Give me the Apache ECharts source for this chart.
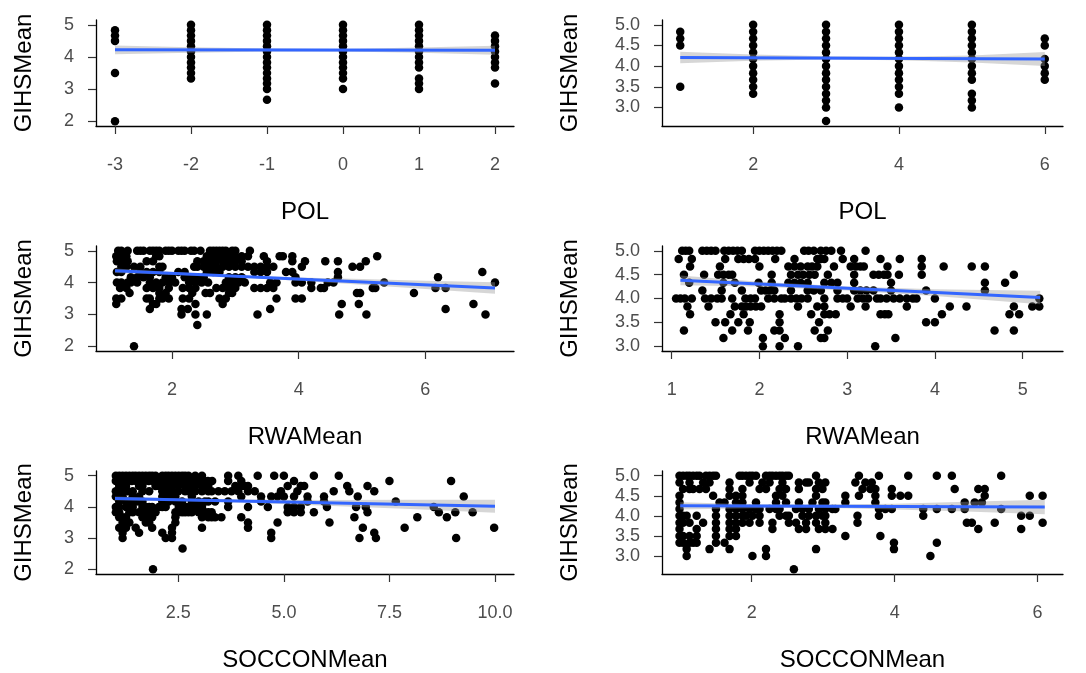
<!DOCTYPE html>
<html>
<head>
<meta charset="utf-8">
<script src="https://cdn.jsdelivr.net/npm/echarts@6/dist/echarts.min.js"></script>
<style>
  html, body { margin: 0; padding: 0; background: #fff; }
  #chart { width: 1086px; height: 673px; }
</style>
</head>
<body>
<div id="chart"></div>
<script>
// ---- data ----
// POL panels: [POL value, [GIHSMean values at that POL]]
const polColsA = [
  [-3, [4.83, 4.67, 4.5, 3.5, 2.0]],
  [-2, [5, 4.83, 4.67, 4.5, 4.33, 4.17, 4, 3.83, 3.67, 3.5, 3.33]],
  [-1, [5, 4.83, 4.67, 4.5, 4.33, 4.17, 4, 3.83, 3.67, 3.5, 3.33, 3.17, 3.0, 2.67]],
  [0, [5, 4.83, 4.67, 4.5, 4.33, 4.17, 4, 3.83, 3.67, 3.5, 3.33, 3.0]],
  [1, [5, 4.83, 4.67, 4.5, 4.33, 4.17, 4, 3.83, 3.67, 3.33, 3.17, 3.0]],
  [2, [4.67, 4.5, 4.33, 4.17, 4, 3.83, 3.67, 3.17]]
];
const polColsB = [
  [1, [4.83, 4.67, 4.5, 3.5]],
  [2, [5, 4.83, 4.67, 4.5, 4.33, 4.17, 4, 3.83, 3.67, 3.5, 3.33]],
  [3, [5, 4.83, 4.67, 4.5, 4.33, 4.17, 4, 3.83, 3.67, 3.5, 3.33, 3.17, 3.0, 2.67]],
  [4, [5, 4.83, 4.67, 4.5, 4.33, 4.17, 4, 3.83, 3.67, 3.5, 3.33, 3.0]],
  [5, [5, 4.83, 4.67, 4.5, 4.33, 4.17, 4, 3.83, 3.67, 3.33, 3.17, 3.0]],
  [6, [4.67, 4.5, 4.17, 4, 3.83, 3.67]]
];

// continuous panels: [GIHSMean value, [x values with that GIHSMean]]
const rwaRowsA = [
  [5.00, [1.15, 1.2, 1.3, 1.45, 1.5, 1.55, 1.65, 1.7, 1.75, 1.8, 1.9, 1.95, 2.0, 2.1, 2.15, 2.2, 2.3, 2.35, 2.45, 2.6, 2.65, 2.7, 2.75, 2.8, 2.85, 2.95, 3.0, 3.23]],
  [4.83, [1.12, 1.2, 1.28, 1.75, 1.8, 2.55, 2.6, 2.7, 2.8, 2.9, 3.0, 3.1, 3.2, 3.45, 3.7, 3.75, 3.9, 5.24]],
  [4.67, [1.13, 1.2, 1.3, 1.6, 1.7, 2.4, 2.5, 2.6, 2.7, 2.8, 2.9, 3.0, 3.1, 3.5, 3.9, 4.1, 4.42, 4.62, 5.06]],
  [4.50, [1.2, 1.28, 1.4, 1.5, 1.8, 1.85, 2.35, 2.4, 2.5, 2.6, 2.7, 2.8, 2.9, 3.0, 3.1, 3.2, 3.3, 3.4, 3.5, 3.6, 4.05, 4.85, 4.97]],
  [4.33, [1.13, 1.2, 1.5, 1.6, 1.7, 1.8, 2.1, 2.2, 2.55, 2.65, 2.75, 3.3, 3.4, 3.5, 3.8, 3.9, 4.62, 6.9]],
  [4.17, [1.35, 1.45, 1.55, 1.65, 1.9, 2.0, 2.2, 2.3, 2.4, 2.5, 2.9, 3.0, 3.1, 3.95, 4.62, 6.2]],
  [4.00, [1.13, 1.2, 1.3, 1.35, 1.45, 1.65, 1.75, 1.85, 1.95, 2.05, 2.27, 2.37, 2.47, 2.57, 2.85, 2.95, 3.05, 3.15, 3.55, 3.65, 3.95, 4.05, 4.2, 4.46, 4.55, 5.35, 7.1]],
  [3.83, [1.18, 1.28, 1.6, 1.7, 1.8, 1.95, 2.17, 2.27, 2.37, 2.7, 2.8, 2.9, 3.0, 3.3, 3.4, 3.5, 3.6, 4.2, 4.35, 4.4, 5.17, 5.21, 6.16, 6.32]],
  [3.67, [1.33, 1.8, 1.9, 2.32, 2.53, 2.6, 2.9, 2.95, 4.92, 4.97, 5.82]],
  [3.50, [1.12, 1.2, 1.6, 1.65, 1.8, 1.85, 1.95, 2.17, 2.27, 2.75, 2.85, 3.65, 3.95, 4.05]],
  [3.33, [1.12, 1.7, 1.75, 2.37, 2.8, 4.68, 4.95, 6.76]],
  [3.17, [1.65, 2.15, 2.25, 3.55, 6.32]],
  [3.00, [2.15, 2.37, 2.55, 3.35, 4.64, 5.07, 6.95]],
  [2.67, [2.4]],
  [2.00, [1.4]]
];
const rwaRowsB = [
  [5.00, [1.12, 1.16, 1.2, 1.35, 1.4, 1.45, 1.5, 1.6, 1.65, 1.7, 1.75, 1.8, 1.95, 2.0, 2.05, 2.1, 2.15, 2.2, 2.25, 2.51, 2.56, 2.62, 2.7, 2.76, 2.82, 2.93, 3.21]],
  [4.83, [1.08, 1.23, 1.61, 1.76, 1.82, 1.88, 1.95, 2.18, 2.4, 2.66, 2.7, 2.74, 2.95, 3.08, 3.38, 3.6, 3.85]],
  [4.67, [1.21, 1.55, 2.0, 2.33, 2.4, 2.47, 2.55, 2.6, 2.66, 2.85, 3.04, 3.1, 3.15, 3.19, 3.46, 3.85, 4.1, 4.42, 4.57]],
  [4.50, [1.14, 1.37, 1.53, 1.59, 1.65, 1.69, 2.14, 2.36, 2.44, 2.5, 2.57, 2.63, 2.78, 3.08, 3.3, 3.36, 3.42, 3.46, 3.59, 3.85, 4.9]],
  [4.33, [1.2, 1.59, 1.72, 1.99, 2.14, 2.33, 2.4, 2.47, 2.55, 2.74, 2.82, 2.89, 3.08, 3.5, 4.57, 4.8]],
  [4.17, [1.35, 1.57, 1.8, 2.02, 2.07, 2.12, 2.17, 2.36, 2.55, 2.62, 2.7, 2.89, 3.08, 3.15, 3.22, 3.3, 3.5, 3.9, 4.57]],
  [4.00, [1.05, 1.1, 1.15, 1.23, 1.38, 1.45, 1.52, 1.57, 1.69, 1.84, 1.9, 1.95, 2.1, 2.17, 2.25, 2.29, 2.36, 2.42, 2.48, 2.55, 2.74, 2.89, 2.95, 3.0, 3.12, 3.18, 3.24, 3.34, 3.38, 3.45, 3.53, 3.6, 3.68, 3.75, 3.79, 4.0, 5.19]],
  [3.83, [1.18, 1.42, 1.72, 1.8, 1.85, 1.9, 1.96, 2.02, 2.44, 2.66, 2.74, 3.04, 3.21, 3.68, 4.17, 4.36, 4.9, 5.11, 5.19]],
  [3.67, [1.21, 1.67, 1.82, 2.23, 2.59, 2.74, 2.8, 2.87, 3.38, 3.43, 3.47, 4.08, 4.85, 4.96]],
  [3.50, [1.5, 1.61, 1.76, 1.89, 2.23, 2.68, 3.9, 4.0]],
  [3.33, [1.14, 1.69, 1.87, 2.17, 2.23, 2.63, 2.78, 4.68, 4.9]],
  [3.17, [1.59, 2.04, 2.29, 2.7, 2.74, 3.55]],
  [3.00, [2.04, 2.23, 2.44, 3.32]]
];
const socRowsA = [
  [5.00, [1.02, 1.1, 1.18, 1.26, 1.34, 1.42, 1.49, 1.57, 1.65, 1.73, 1.81, 1.88, 1.96, 2.12, 2.2, 2.27, 2.35, 2.43, 2.51, 2.59, 2.66, 2.74, 2.9, 3.06, 3.68, 3.92, 4.38, 4.77, 5.0, 5.71, 6.3]],
  [4.83, [1.02, 1.1, 1.2, 1.3, 1.4, 1.5, 1.6, 1.7, 1.8, 1.9, 2.0, 2.1, 2.2, 2.3, 2.4, 2.5, 2.6, 2.7, 2.8, 2.9, 3.0, 3.1, 3.2, 3.3, 3.68, 3.99, 5.24, 7.5, 8.96]],
  [4.67, [1.1, 1.18, 1.26, 1.57, 1.65, 1.96, 2.04, 2.2, 2.35, 2.5, 2.66, 2.82, 2.9, 3.06, 3.21, 3.85, 3.99, 4.07, 4.15, 5.09, 5.4, 5.48, 6.5, 6.98]],
  [4.50, [1.02, 1.1, 1.2, 1.3, 1.42, 1.65, 1.81, 2.12, 2.2, 2.35, 2.5, 2.66, 2.74, 2.9, 3.06, 3.21, 3.29, 3.45, 3.6, 3.76, 3.92, 4.15, 4.31, 4.93, 5.32, 6.18, 6.55, 7.14]],
  [4.33, [1.02, 1.18, 1.42, 1.57, 2.12, 2.27, 2.43, 2.82, 3.99, 4.46, 4.7, 4.85, 5.0, 5.24, 5.56, 5.95, 6.75, 9.26]],
  [4.17, [1.1, 1.26, 1.34, 1.42, 1.49, 1.57, 1.65, 2.12, 2.27, 2.43, 2.59, 2.82, 2.98, 3.13, 3.21, 3.37, 3.68, 4.46, 5.56, 5.95, 7.65]],
  [4.00, [1.02, 1.1, 1.26, 1.34, 1.42, 1.65, 1.73, 1.81, 1.88, 2.04, 2.12, 2.2, 2.51, 2.59, 2.66, 2.74, 2.9, 2.98, 3.06, 3.68, 4.15, 4.62, 5.09, 5.24, 5.4, 6.02, 6.71, 6.94, 8.55]],
  [3.83, [1.02, 1.1, 1.34, 1.42, 1.57, 1.65, 1.73, 1.81, 1.96, 2.43, 2.51, 2.59, 2.66, 2.74, 2.82, 2.98, 3.06, 3.13, 3.21, 3.29, 5.09, 5.24, 5.4, 5.71, 6.98, 8.67, 9.06, 9.47]],
  [3.67, [1.1, 1.18, 1.26, 1.65, 1.73, 1.81, 1.88, 2.43, 3.06, 3.21, 3.29, 3.37, 3.52, 3.99, 6.67, 8.16, 8.86]],
  [3.50, [1.18, 1.34, 1.73, 1.81, 2.43, 4.15, 4.85, 6.08]],
  [3.33, [1.1, 1.26, 1.49, 1.88, 2.35, 3.06, 4.15, 6.87, 7.86, 9.98]],
  [3.17, [1.18, 1.57, 2.12, 2.35, 4.7, 7.14]],
  [3.00, [1.18, 2.2, 2.35, 4.7, 6.79, 7.18, 9.08]],
  [2.67, [2.6]],
  [2.00, [1.9]]
];
const socRowsB = [
  [5.00, [0.99, 1.04, 1.09, 1.13, 1.18, 1.23, 1.27, 1.36, 1.41, 1.46, 1.5, 1.83, 1.87, 1.92, 1.97, 2.01, 2.06, 2.2, 2.25, 2.29, 2.34, 2.39, 2.43, 2.48, 2.52, 2.9, 3.5, 3.78, 4.19, 4.59, 4.8, 5.49]],
  [4.83, [0.99, 1.13, 1.32, 1.41, 1.69, 1.97, 2.15, 2.25, 2.43, 2.66, 2.76, 2.8, 2.94, 3.03, 3.45, 3.59, 3.68]],
  [4.67, [1.04, 1.13, 1.18, 1.27, 1.36, 1.69, 1.87, 2.11, 2.2, 2.39, 2.48, 2.66, 2.9, 2.99, 3.55, 3.66, 3.73, 3.96, 4.84, 5.17, 5.26]],
  [4.50, [0.99, 1.46, 1.69, 1.78, 1.87, 2.34, 2.43, 2.9, 3.31, 3.5, 3.73, 3.96, 4.08, 4.19, 5.26, 5.89, 6.07]],
  [4.33, [0.99, 1.55, 1.62, 1.78, 1.87, 2.06, 2.34, 2.48, 2.66, 2.85, 2.99, 3.03, 3.31, 3.73, 4.98, 5.12, 5.22]],
  [4.17, [0.99, 1.5, 1.69, 1.78, 1.87, 1.97, 2.06, 2.11, 2.25, 2.34, 2.39, 2.62, 2.71, 2.8, 2.94, 3.03, 3.13, 3.17, 3.78, 3.87, 3.96, 4.4, 4.59, 4.8, 4.98, 5.49]],
  [4.00, [0.99, 1.04, 1.09, 1.23, 1.5, 1.69, 1.78, 1.87, 1.92, 2.01, 2.11, 2.39, 2.48, 2.52, 2.71, 2.8, 2.9, 2.99, 3.03, 3.48, 3.78, 4.4, 5.77, 5.89]],
  [3.83, [0.99, 1.04, 1.13, 1.32, 1.5, 1.69, 1.78, 1.87, 1.97, 2.11, 2.29, 2.52, 2.62, 2.76, 2.9, 3.03, 3.48, 5.01, 5.08, 5.4, 6.07]],
  [3.67, [0.99, 1.23, 1.5, 1.69, 1.78, 2.29, 2.66, 2.76, 2.94, 3.03, 3.13, 5.17, 5.77]],
  [3.50, [0.99, 1.04, 1.13, 1.23, 1.5, 1.69, 1.78, 3.31, 3.8]],
  [3.33, [0.99, 1.04, 1.13, 1.18, 1.23, 1.5, 1.62, 3.99, 4.59]],
  [3.17, [1.09, 1.41, 1.69, 2.2, 2.9, 3.99]],
  [3.00, [1.09, 2.01, 2.2, 4.5]],
  [2.67, [2.59]]
];

// fitted lm lines and their 95% bands: [x, y] and [x, lower, upper]
const fitPolA = [[-3, 4.22], [2, 4.21]];
const bandPolA = [[-3, 4.08, 4.36], [-2, 4.13, 4.30], [-1, 4.17, 4.26], [0, 4.17, 4.25], [1, 4.13, 4.29], [2, 4.07, 4.35]];
const fitPolB = [[1, 4.21], [6, 4.17]];
const bandPolB = [[1, 4.07, 4.35], [2, 4.13, 4.28], [3, 4.16, 4.24], [4, 4.14, 4.23], [5, 4.09, 4.26], [6, 4.00, 4.34]];
const fitRwaA = [[1.1, 4.37], [7.1, 3.83]];
const bandRwaA = [[1.1, 4.30, 4.44], [2, 4.25, 4.33], [3, 4.17, 4.23], [4, 4.06, 4.16], [5, 3.93, 4.11], [6, 3.80, 4.06], [7.1, 3.65, 4.01]];
const fitRwaB = [[1.1, 4.38], [5.2, 4.02]];
const bandRwaB = [[1.1, 4.28, 4.48], [2, 4.25, 4.35], [3, 4.17, 4.25], [4, 4.055, 4.195], [5.2, 3.88, 4.16]];
const fitSocA = [[1, 4.27], [10, 4.02]];
const bandSocA = [[1, 4.21, 4.33], [2.5, 4.19, 4.27], [4, 4.14, 4.24], [6, 4.04, 4.22], [8, 3.93, 4.23], [10, 3.81, 4.23]];
const fitSocB = [[1, 4.25], [6.1, 4.22]];
const bandSocB = [[1, 4.16, 4.34], [2, 4.19, 4.29], [3, 4.20, 4.28], [4, 4.16, 4.30], [5, 4.11, 4.35], [6.1, 4.04, 4.40]];

// tick labels
const polTicksA = [-3, -2, -1, 0, 1, 2];
const polTicksB = [2, 4, 6];
const rwaTicksA = [2, 4, 6];
const rwaTicksB = [1, 2, 3, 4, 5];
const socTicksA = [2.5, 5.0, 7.5, 10.0];
const socTicksB = [2, 4, 6];
const gihsTicksA = [2, 3, 4, 5];
const gihsTicksB = [3.0, 3.5, 4.0, 4.5, 5.0];

function fromColumns(cols) {
  const out = [];
  cols.forEach(c => c[1].forEach(y => out.push([c[0], y])));
  return out;
}
function fromRows(rows) {
  const out = [];
  rows.forEach(r => r[1].forEach(x => out.push([x, r[0]])));
  return out;
}

const leftCol = { left: 96, width: 418, yGap: 60 };
const rightCol = { left: 662, width: 401, yGap: 80 };
const rows = [{ top: 20, height: 106 }, { top: 246, height: 105 }, { top: 471, height: 106 }];

const panels = [
  { col: leftCol, row: rows[0], xName: 'POL', pts: fromColumns(polColsA), fit: fitPolA, band: bandPolA,
    xMin: -3.25, xMax: 2.25, xTicks: polTicksA, xDigits: 0, yMin: 1.85, yMax: 5.15, yTicks: gihsTicksA, yDigits: 0 },
  { col: rightCol, row: rows[0], xName: 'POL', pts: fromColumns(polColsB), fit: fitPolB, band: bandPolB,
    xMin: 0.75, xMax: 6.25, xTicks: polTicksB, xDigits: 0, yMin: 2.55, yMax: 5.117, yTicks: gihsTicksB, yDigits: 1 },
  { col: leftCol, row: rows[1], xName: 'RWAMean', pts: fromRows(rwaRowsA), fit: fitRwaA, band: bandRwaA,
    xMin: 0.8, xMax: 7.4, xTicks: rwaTicksA, xDigits: 0, yMin: 1.85, yMax: 5.15, yTicks: gihsTicksA, yDigits: 0 },
  { col: rightCol, row: rows[1], xName: 'RWAMean', pts: fromRows(rwaRowsB), fit: fitRwaB, band: bandRwaB,
    xMin: 0.89, xMax: 5.46, xTicks: rwaTicksB, xDigits: 0, yMin: 2.9, yMax: 5.1, yTicks: gihsTicksB, yDigits: 1 },
  { col: leftCol, row: rows[2], xName: 'SOCCONMean', pts: fromRows(socRowsA), fit: fitSocA, band: bandSocA,
    xMin: 0.55, xMax: 10.45, xTicks: socTicksA, xDigits: 1, yMin: 1.85, yMax: 5.15, yTicks: gihsTicksA, yDigits: 0 },
  { col: rightCol, row: rows[2], xName: 'SOCCONMean', pts: fromRows(socRowsB), fit: fitSocB, band: bandSocB,
    xMin: 0.745, xMax: 6.355, xTicks: socTicksB, xDigits: 0, yMin: 2.55, yMax: 5.117, yTicks: gihsTicksB, yDigits: 1 }
];

const font = 'Liberation Sans, Arial, sans-serif';
const grid = [], xAxis = [], yAxis = [], series = [];

panels.forEach((p, i) => {
  grid.push({ left: p.col.left, width: p.col.width, top: p.row.top, height: p.row.height });
  xAxis.push({
    gridIndex: i, type: 'value', min: p.xMin, max: p.xMax,
    name: p.xName, nameLocation: 'middle', nameGap: 74,
    nameTextStyle: { fontSize: 24, color: '#000', fontFamily: font },
    axisLine: { onZero: false, lineStyle: { color: '#000', width: 1.3 } },
    axisTick: { customValues: p.xTicks, length: 8, lineStyle: { color: '#333', width: 1.2 } },
    axisLabel: { customValues: p.xTicks, margin: 30, fontSize: 18, color: '#4d4d4d', fontFamily: font,
      formatter: v => Number(v).toFixed(p.xDigits) },
    splitLine: { show: false }
  });
  yAxis.push({
    gridIndex: i, type: 'value', min: p.yMin, max: p.yMax,
    name: 'GIHSMean', nameLocation: 'middle', nameGap: p.col.yGap,
    nameTextStyle: { fontSize: 24, color: '#000', fontFamily: font },
    axisLine: { onZero: false, lineStyle: { color: '#000', width: 1.3 } },
    axisTick: { customValues: p.yTicks, length: 8, lineStyle: { color: '#333', width: 1.2 } },
    axisLabel: { customValues: p.yTicks, margin: 22, fontSize: 18, color: '#4d4d4d', fontFamily: font,
      formatter: v => Number(v).toFixed(p.yDigits) },
    splitLine: { show: false }
  });
  series.push({
    type: 'scatter', xAxisIndex: i, yAxisIndex: i, data: p.pts,
    symbolSize: 8.5, itemStyle: { color: '#000', opacity: 1 }, z: 2, silent: true
  });
  const band = p.band;
  series.push({
    type: 'custom', xAxisIndex: i, yAxisIndex: i, data: band, z: 3, silent: true,
    renderItem: (params, api) => {
      if (params.dataIndex !== 0) return null;
      const upper = band.map(b => api.coord([b[0], b[2]]));
      const lower = band.map(b => api.coord([b[0], b[1]])).reverse();
      return { type: 'polygon', shape: { points: upper.concat(lower) },
        style: { fill: 'rgba(153,153,153,0.4)' } };
    }
  });
  series.push({
    type: 'line', xAxisIndex: i, yAxisIndex: i, data: p.fit, showSymbol: false, z: 4, silent: true,
    lineStyle: { color: '#3366FF', width: 3 }
  });
});

const chart = echarts.init(document.getElementById('chart'));
chart.setOption({
  animation: false,
  backgroundColor: '#fff',
  grid: grid,
  xAxis: xAxis,
  yAxis: yAxis,
  series: series
});
</script>
</body>
</html>
